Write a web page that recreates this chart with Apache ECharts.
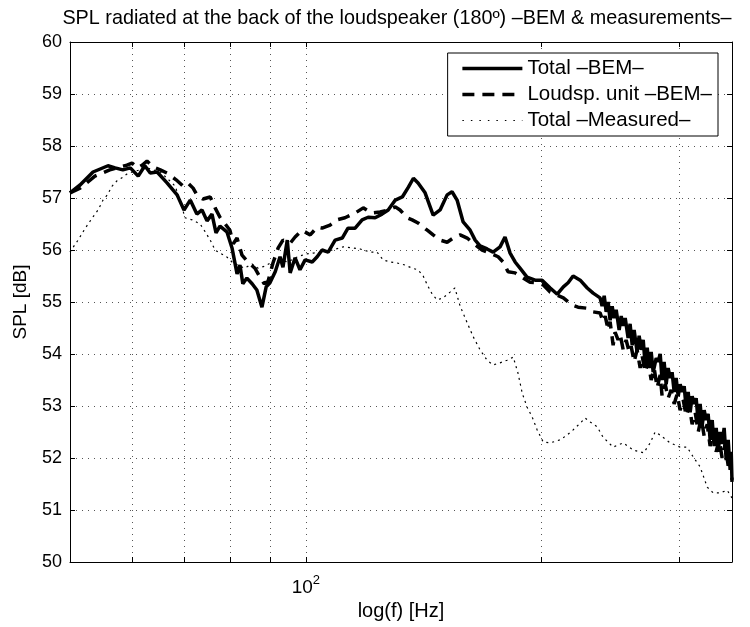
<!DOCTYPE html>
<html>
<head>
<meta charset="utf-8">
<script src="https://cdn.jsdelivr.net/npm/echarts@6/dist/echarts.min.js"></script>
</head>
<body style="margin:0; background:#fff">
<div id="chart" style="width:750px;height:627px"></div>
<script>
// [frequency Hz, SPL dB]
var totalBEM = [
  [50.0,57.10],[51.5,57.25],[53.5,57.50],[55.9,57.62],[57.1,57.58],[58.4,57.54],[59.7,57.58],
  [61.1,57.42],[62.3,57.62],[63.3,57.48],[64.6,57.50],[66.5,57.29],[68.5,57.06],[69.9,56.77],
  [71.2,56.96],[72.6,56.69],[73.7,56.77],[74.8,56.56],[75.9,56.69],[76.8,56.33],[77.7,56.46],
  [79.3,56.35],[80.5,56.04],[81.7,55.54],[82.4,55.71],[83.1,55.35],[84.1,55.46],[85.4,55.35],
  [86.6,55.23],[87.9,54.90],[89.0,55.29],[90.0,55.37],[91.4,55.58],[92.7,55.87],[93.5,55.67],
  [94.7,56.19],[95.5,55.56],[96.9,55.85],[98.3,55.62],[99.8,55.81],[101.9,55.77],[103.4,55.87],
  [104.9,56.00],[106.8,55.96],[109.0,56.19],[111.3,56.23],[113.2,56.42],[115.6,56.42],[118.0,56.58],
  [120.1,56.63],[122.6,56.62],[125.1,56.69],[127.4,56.77],[130.1,56.96],[132.8,57.02],[135.2,57.21],
  [137.2,57.38],[139.1,57.29],[142.0,57.10],[145.4,56.67],[148.4,56.77],[151.5,57.06],[153.7,57.12],
  [156.0,56.96],[158.8,56.54],[162.1,56.38],[164.5,56.19],[166.9,56.08],[170.4,56.02],[173.4,55.96],
  [177.0,56.06],[179.6,56.25],[182.3,55.94],[185.0,55.77],[187.7,55.65],[191.6,55.48],[196.2,55.42],
  [200.3,55.42],[205.1,55.27],[209.4,55.15],[213.2,55.29],[216.2,55.37],[219.4,55.50],[224.0,55.42],
  [228.7,55.27],[232.7,55.17],[237.5,55.08],[238.9,54.92],[240.4,55.12],[241.8,54.81],[243.2,55.00],
  [244.6,54.65],[246.1,54.92],[247.5,54.69],[249.0,54.85],[251.2,54.46],[252.7,54.73],[254.2,54.54],
  [255.7,54.69],[257.9,54.31],[259.4,54.58],[261.0,54.17],[262.5,54.46],[264.8,54.04],[266.4,54.35],
  [268.0,54.08],[269.6,54.27],[271.1,53.81],[272.8,54.12],[274.3,53.73],[276.0,54.04],[277.6,53.65],
  [280.1,53.92],[281.7,53.85],[283.4,54.00],[285.0,53.50],[286.7,53.85],[288.4,53.42],[290.1,53.73],
  [291.8,53.54],[293.5,53.65],[295.3,53.27],[297.0,53.54],[298.8,53.19],[300.5,53.42],[302.3,53.27],
  [304.1,53.38],[305.9,52.96],[307.7,53.27],[309.5,52.88],[311.3,53.19],[313.2,53.04],[315.0,53.15],
  [316.9,52.69],[318.7,53.04],[320.6,52.62],[322.5,52.92],[324.4,52.73],[326.3,52.85],[328.2,52.35],
  [330.2,52.73],[332.1,52.23],[334.1,52.58],[336.1,52.12],[338.0,52.50],[340.0,52.27],[342.0,52.58],
  [344.1,51.96],[346.1,52.35],[348.1,51.77],[349.2,52.12],[350.0,51.54]
];
var loudspBEM = [
  [50.0,57.10],[51.5,57.19],[53.8,57.42],[56.2,57.54],[57.9,57.60],[59.1,57.63],[60.0,57.67],
  [61.0,57.58],[61.8,57.63],[62.7,57.71],[63.8,57.60],[65.2,57.54],[66.5,57.48],[68.3,57.35],
  [69.7,57.23],[70.7,57.29],[71.8,57.19],[72.6,57.06],[73.9,56.98],[75.5,57.02],[76.6,56.81],
  [77.7,56.63],[78.9,56.50],[80.0,56.38],[80.8,56.12],[81.7,56.23],[82.9,55.90],[83.9,55.81],
  [84.9,55.73],[86.1,55.65],[87.4,55.48],[88.5,55.35],[89.5,55.40],[90.8,55.75],[92.2,56.04],
  [93.5,56.19],[95.5,56.13],[96.9,56.25],[98.9,56.38],[101.3,56.29],[103.4,56.44],[104.9,56.42],
  [107.4,56.48],[109.6,56.58],[112.2,56.62],[115.6,56.71],[118.4,56.81],[121.5,56.71],[124.4,56.73],
  [127.4,56.77],[130.1,56.83],[131.9,56.77],[134.7,56.62],[136.7,56.58],[139.1,56.52],[142.9,56.38],
  [145.4,56.29],[148.4,56.19],[151.5,56.15],[154.2,56.23],[157.4,56.29],[160.7,56.23],[163.6,56.13],
  [167.9,56.00],[171.9,55.94],[176.0,55.87],[178.6,55.77],[181.2,55.58],[185.0,55.56],[189.4,55.46],
  [193.3,55.38],[197.3,55.37],[200.9,55.33],[205.1,55.19],[209.4,55.13],[213.2,55.08],[218.8,54.94],
  [222.6,54.90],[228.7,54.88],[232.7,54.81],[237.5,54.79],[239.6,54.62],[241.1,54.73],[243.2,54.46],
  [244.6,54.62],[246.8,54.17],[248.2,54.42],[250.4,54.27],[251.9,54.38],[254.2,54.08],[256.4,54.27],
  [258.7,54.04],[260.2,54.15],[262.5,53.85],[264.8,54.08],[267.2,53.73],[268.8,53.96],[271.1,53.65],
  [273.5,53.85],[276.0,53.50],[278.4,53.73],[280.9,53.35],[283.4,53.60],[285.0,53.19],[287.6,53.42],
  [290.1,53.15],[292.7,53.31],[295.3,53.04],[297.9,53.23],[300.5,52.92],[303.2,53.12],[305.9,52.81],
  [308.6,53.02],[311.3,52.65],[314.1,52.88],[316.9,52.50],[319.7,52.77],[322.5,52.42],[325.4,52.65],
  [328.2,52.23],[331.2,52.50],[334.1,52.12],[337.0,52.35],[340.0,52.00],[343.0,52.27],[346.1,51.85],
  [348.1,52.04],[350.0,51.58]
];
var totalMeasured = [
  [50.0,55.96],[50.6,56.08],[51.2,56.19],[52.3,56.42],[53.4,56.62],[54.3,56.77],[55.1,56.96],
  [55.8,57.06],[56.6,57.23],[57.4,57.33],[58.4,57.40],[59.1,57.46],[60.0,57.50],[61.4,57.54],
  [62.7,57.58],[63.8,57.54],[65.2,57.50],[66.5,57.38],[68.1,57.23],[69.1,56.96],[70.1,56.62],
  [71.6,56.58],[73.3,56.50],[74.4,56.35],[75.5,56.19],[76.6,56.00],[77.7,55.94],[79.1,55.88],
  [80.5,55.77],[81.9,55.71],[83.5,55.65],[85.4,55.73],[86.9,55.65],[88.7,55.69],[90.6,55.77],
  [92.7,55.81],[94.9,55.77],[96.9,55.85],[99.8,55.92],[102.2,55.94],[104.9,55.96],[108.1,56.00],
  [111.6,56.06],[114.9,56.04],[117.3,56.02],[120.8,55.96],[123.3,55.96],[125.5,55.81],[128.1,55.77],
  [130.8,55.75],[133.9,55.71],[136.7,55.65],[139.1,55.62],[141.2,55.50],[142.9,55.33],[145.0,55.15],
  [147.1,55.04],[149.7,55.08],[152.8,55.19],[155.0,55.27],[157.4,54.92],[160.7,54.60],[163.6,54.33],
  [166.9,54.08],[170.4,53.88],[173.4,53.79],[177.0,53.83],[180.7,53.88],[184.0,53.94],[186.6,53.63],
  [188.9,53.25],[191.6,52.98],[194.5,52.79],[197.4,52.54],[200.9,52.31],[205.1,52.29],[211.2,52.35],
  [215.5,52.44],[219.4,52.54],[224.0,52.67],[227.3,52.77],[230.7,52.69],[235.5,52.60],[239.6,52.40],
  [246.8,52.21],[254.2,52.29],[262.0,52.15],[270.0,52.10],[275.2,52.29],[279.2,52.50],[283.4,52.44],
  [291.8,52.29],[300.5,52.21],[306.7,52.21],[312.3,52.02],[318.7,51.83],[325.4,51.44],[331.2,51.33],
  [338.0,51.33],[345.1,51.38],[350.0,51.23]
];
var seriesNames = ['Total \u2013BEM\u2013', 'Loudsp. unit \u2013BEM\u2013', 'Total \u2013Measured\u2013'];
var xGridFreqs = [60, 70, 80, 90, 100, 200, 300];
var xLabelFreqs = [100];

var font = '"Liberation Sans", Arial, Helvetica, sans-serif';
var chart = echarts.init(document.getElementById('chart'));

var gridLine = { show: true, lineStyle: { color: '#555', width: 1, type: [1, 5] } };

chart.setOption({
  backgroundColor: '#fff',
  animation: false,
  textStyle: { fontFamily: font, color: '#000' },
  title: {
    text: 'SPL radiated at the back of the loudspeaker (180\u00ba) \u2013BEM & measurements\u2013',
    left: 392, textAlign: 'center', top: 4,
    textStyle: { fontSize: 19.8, fontWeight: 'normal', fontFamily: font, color: '#000' }
  },
  legend: {
    orient: 'vertical',
    right: 32, top: 53,
    align: 'left',
    itemWidth: 60, itemHeight: 14, itemGap: 5,
    padding: [5, 6, 5, 13],
    backgroundColor: '#fff',
    borderColor: '#000', borderWidth: 1,
    selectedMode: false,
    itemStyle: { opacity: 0 },
    textStyle: { fontSize: 20.5, fontFamily: font, color: '#000' },
    data: [
      { name: seriesNames[0], lineStyle: { width: 3.5 } },
      { name: seriesNames[1], lineStyle: { width: 3.5, type: [12, 8] } },
      { name: seriesNames[2], lineStyle: { width: 1.2, type: [1.5, 7] } }
    ]
  },
  grid: { left: 70, right: 18, top: 42, bottom: 65 },
  xAxis: [{
    type: 'log', logBase: 10, min: 50, max: 350,
    name: 'log(f) [Hz]', nameLocation: 'middle', nameGap: 38,
    nameTextStyle: { fontSize: 20, fontFamily: font, color: '#000' },
    axisLine: { show: true, lineStyle: { color: '#000', width: 1 } },
    axisTick: { show: true, inside: true, length: 5, customValues: xGridFreqs, lineStyle: { color: '#000' } },
    axisLabel: {
      customValues: xLabelFreqs, margin: 12,
      formatter: function () { return '{b|10}{s|2}'; },
      rich: {
        b: { fontSize: 19, fontFamily: font, color: '#000' },
        s: { fontSize: 13, fontFamily: font, color: '#000', padding: [0, 0, 14, 0] }
      }
    },
    splitLine: gridLine
  }, {
    type: 'log', logBase: 10, min: 50, max: 350, position: 'top',
    axisLine: { show: true, lineStyle: { color: '#000', width: 1 } },
    axisTick: { show: true, inside: true, length: 5, customValues: xGridFreqs, lineStyle: { color: '#000' } },
    axisLabel: { show: false },
    splitLine: { show: false }
  }],
  yAxis: [{
    type: 'value', min: 50, max: 60, interval: 1,
    name: 'SPL [dB]', nameLocation: 'middle', nameGap: 40,
    nameTextStyle: { fontSize: 19, fontFamily: font, color: '#000' },
    axisLine: { show: true, lineStyle: { color: '#000', width: 1 } },
    axisTick: { show: true, inside: true, length: 5, lineStyle: { color: '#000' } },
    axisLabel: { fontSize: 18, margin: 8, color: '#000', fontFamily: font },
    splitLine: gridLine
  }, {
    type: 'value', min: 50, max: 60, interval: 1, position: 'right',
    axisLine: { show: true, lineStyle: { color: '#000', width: 1 } },
    axisTick: { show: true, inside: true, length: 5, lineStyle: { color: '#000' } },
    axisLabel: { show: false },
    splitLine: { show: false }
  }],
  series: [{
    name: seriesNames[0], type: 'line', data: totalBEM,
    showSymbol: false, symbol: 'none',
    lineStyle: { color: '#000', width: 3.5 }, itemStyle: { color: '#000' }
  }, {
    name: seriesNames[1], type: 'line', data: loudspBEM,
    showSymbol: false, symbol: 'none',
    lineStyle: { color: '#000', width: 3.5, type: [12, 8] }, itemStyle: { color: '#000' }
  }, {
    name: seriesNames[2], type: 'line', data: totalMeasured,
    showSymbol: false, symbol: 'none',
    lineStyle: { color: '#000', width: 1.2, type: [2, 4] }, itemStyle: { color: '#000' }
  }]
});
</script>
</body>
</html>
